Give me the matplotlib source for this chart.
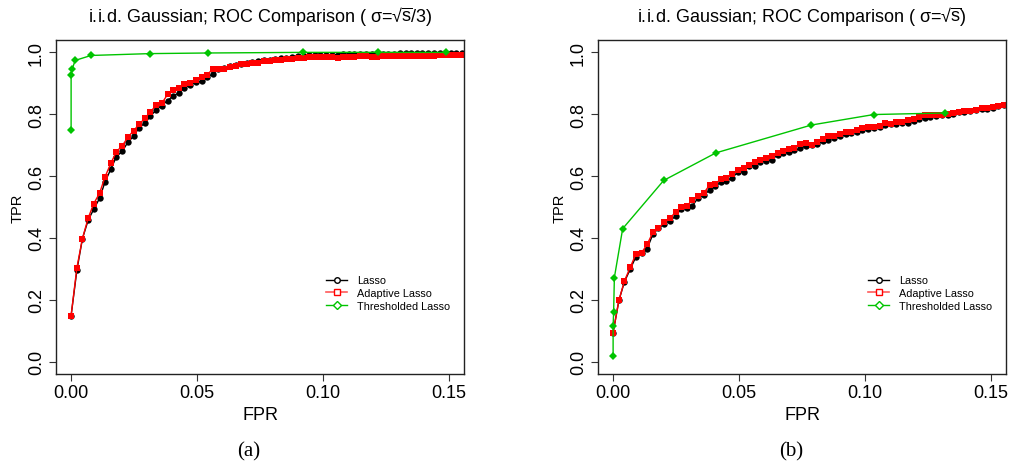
import matplotlib
matplotlib.use("Agg")
import matplotlib.pyplot as plt
from matplotlib.lines import Line2D

plt.rcParams['font.family'] = ['Liberation Sans', 'DejaVu Sans']
plt.rcParams['mathtext.fontset'] = 'custom'
plt.rcParams['mathtext.rm'] = 'Liberation Sans'
plt.rcParams['mathtext.it'] = 'Liberation Sans'
plt.rcParams['mathtext.bf'] = 'Liberation Sans:bold'

# ---------------- data ----------------
# common FPR grid of the Lasso / Adaptive Lasso paths
fpr_path = [0.0000, 0.0023, 0.0045, 0.0068, 0.0090, 0.0113, 0.0135, 0.0158, 0.0180, 0.0203,
            0.0225, 0.0248, 0.0270, 0.0293, 0.0315, 0.0338, 0.0360, 0.0383, 0.0405, 0.0428,
            0.0450, 0.0473, 0.0495, 0.0518, 0.0540, 0.0563, 0.0585, 0.0608, 0.0630, 0.0653,
            0.0675, 0.0698, 0.0720, 0.0743, 0.0765, 0.0788, 0.0810, 0.0833, 0.0855, 0.0878,
            0.0900, 0.0923, 0.0945, 0.0968, 0.0990, 0.1013, 0.1035, 0.1058, 0.1080, 0.1103,
            0.1125, 0.1148, 0.1170, 0.1193, 0.1215, 0.1238, 0.1260, 0.1283, 0.1305, 0.1328,
            0.1350, 0.1373, 0.1395, 0.1418, 0.1440, 0.1463, 0.1485, 0.1508, 0.1530, 0.1553]

# panel (a): sigma = sqrt(s)/3
tpr_lasso_a = [0.149, 0.296, 0.398, 0.458, 0.493, 0.528, 0.582, 0.623, 0.663, 0.680,
               0.709, 0.729, 0.757, 0.771, 0.794, 0.814, 0.828, 0.844, 0.859, 0.869,
               0.886, 0.895, 0.904, 0.906, 0.919, 0.931, 0.946, 0.950, 0.955, 0.960,
               0.963, 0.966, 0.969, 0.972, 0.974, 0.976, 0.979, 0.981, 0.983, 0.985,
               0.987, 0.989, 0.990, 0.991, 0.992, 0.992, 0.993, 0.993, 0.994, 0.994,
               0.994, 0.995, 0.995, 0.995, 0.996, 0.996, 0.996, 0.996, 0.997, 0.997,
               0.997, 0.997, 0.998, 0.998, 0.998, 0.998, 0.999, 0.999, 0.999, 0.999]
tpr_adapt_a = [0.149, 0.304, 0.398, 0.465, 0.511, 0.545, 0.598, 0.642, 0.679, 0.698,
               0.725, 0.747, 0.767, 0.787, 0.808, 0.829, 0.835, 0.864, 0.878, 0.884,
               0.898, 0.902, 0.911, 0.920, 0.928, 0.946, 0.945, 0.945, 0.954, 0.956,
               0.963, 0.964, 0.965, 0.965, 0.971, 0.972, 0.976, 0.976, 0.980, 0.980,
               0.982, 0.982, 0.984, 0.984, 0.985, 0.986, 0.986, 0.982, 0.984, 0.986,
               0.986, 0.987, 0.987, 0.984, 0.986, 0.987, 0.987, 0.988, 0.988, 0.988,
               0.988, 0.989, 0.989, 0.989, 0.989, 0.990, 0.990, 0.990, 0.991, 0.992]
fpr_thresh_a = [0.0000, 0.0000, 0.0004, 0.0016, 0.0079, 0.0313, 0.0544, 0.0921, 0.1219, 0.1490]
tpr_thresh_a = [0.750, 0.928, 0.945, 0.974, 0.990, 0.996, 0.998, 1.000, 1.000, 1.000]

# panel (b): sigma = sqrt(s)
tpr_lasso_b = [0.094, 0.198, 0.258, 0.299, 0.338, 0.351, 0.365, 0.412, 0.431, 0.446,
               0.455, 0.470, 0.494, 0.497, 0.504, 0.530, 0.539, 0.554, 0.567, 0.580,
               0.585, 0.595, 0.612, 0.614, 0.634, 0.634, 0.647, 0.649, 0.653, 0.668,
               0.673, 0.677, 0.683, 0.690, 0.697, 0.700, 0.703, 0.712, 0.718, 0.724,
               0.728, 0.735, 0.740, 0.744, 0.748, 0.752, 0.757, 0.760, 0.764, 0.768,
               0.770, 0.771, 0.772, 0.778, 0.785, 0.789, 0.792, 0.794, 0.796, 0.798,
               0.801, 0.806, 0.808, 0.810, 0.813, 0.816, 0.818, 0.821, 0.826, 0.829]
tpr_adapt_b = [0.094, 0.198, 0.261, 0.305, 0.347, 0.352, 0.379, 0.418, 0.432, 0.450,
               0.464, 0.483, 0.501, 0.504, 0.522, 0.537, 0.545, 0.571, 0.574, 0.591,
               0.595, 0.607, 0.621, 0.627, 0.637, 0.647, 0.651, 0.658, 0.664, 0.675,
               0.680, 0.688, 0.691, 0.704, 0.707, 0.702, 0.711, 0.720, 0.728, 0.728,
               0.737, 0.741, 0.744, 0.749, 0.755, 0.759, 0.760, 0.763, 0.772, 0.770,
               0.774, 0.774, 0.782, 0.785, 0.790, 0.796, 0.796, 0.796, 0.799, 0.801,
               0.804, 0.808, 0.810, 0.812, 0.815, 0.819, 0.820, 0.823, 0.828, 0.830]
fpr_thresh_b = [0.0000, 0.0000, 0.0002, 0.0005, 0.0038, 0.0201, 0.0408, 0.0787, 0.1035, 0.1318]
tpr_thresh_b = [0.019, 0.116, 0.159, 0.272, 0.430, 0.586, 0.675, 0.765, 0.799, 0.804]

x_ticks = [0.00, 0.05, 0.10, 0.15]
x_tick_labels = ["0.00", "0.05", "0.10", "0.15"]
y_ticks = [0.0, 0.2, 0.4, 0.6, 0.8, 1.0]
y_tick_labels = ["0.0", "0.2", "0.4", "0.6", "0.8", "1.0"]
series_names = ["Lasso", "Adaptive Lasso", "Thresholded Lasso"]
titles = ["i.i.d. Gaussian; ROC Comparison ( σ=√$\\overline{\\mathrm{s}}$/3)",
          "i.i.d. Gaussian; ROC Comparison ( σ=√$\\overline{\\mathrm{s}}$)"]
captions = ["(a)", "(b)"]

# ---------------- figure ----------------
W, H = 1011, 464
fig = plt.figure(figsize=(W / 100, H / 100), dpi=100)

GREEN = "#00c400"
RED = "#ff0000"


def px_rect(x0, y0, x1, y1):
    return [x0 / W, 1 - y1 / H, (x1 - x0) / W, (y1 - y0) / H]


panels = [
    dict(rect=px_rect(56, 41, 464, 375), lasso=tpr_lasso_a, adapt=tpr_adapt_a,
         fth=fpr_thresh_a, tth=tpr_thresh_a, leg=(326, 294), cap_x=249),
    dict(rect=px_rect(598, 41, 1006, 375), lasso=tpr_lasso_b, adapt=tpr_adapt_b,
         fth=fpr_thresh_b, tth=tpr_thresh_b, leg=(868, 294), cap_x=791),
]

for i, p in enumerate(panels):
    ax = fig.add_axes(p["rect"])
    ax.plot(fpr_path, p["lasso"], color="black", lw=1.0, marker="o", ms=4.6,
            mfc="black", mec="black", mew=0)
    ax.plot(fpr_path, p["adapt"], color=RED, lw=1.0, marker="s", ms=4.5,
            mfc=RED, mec=RED, mew=0)
    ax.plot(p["fth"], p["tth"], color=GREEN, lw=1.0, marker="D", ms=4.0,
            mfc=GREEN, mec=GREEN, mew=0)

    ax.set_xlim(-0.006, 0.156)
    ax.set_ylim(-0.04, 1.04)
    ax.set_xticks(x_ticks)
    ax.set_xticklabels(x_tick_labels)
    ax.set_yticks(y_ticks)
    ax.set_yticklabels(y_tick_labels, rotation=90, va="center")
    ax.tick_params(axis="both", labelsize=13, length=5, width=0.8, color="#333333")
    ax.tick_params(axis="x", pad=2.5)
    ax.tick_params(axis="y", pad=3)
    for s in ax.spines.values():
        s.set_linewidth(1.0)
        s.set_color("#222222")

    ax.set_xlabel("FPR", fontsize=13, labelpad=3)
    ax.set_ylabel("TPR", fontsize=10.5, labelpad=2)

    cx = (p["rect"][0] + p["rect"][2] / 2)
    fig.text(cx, 1 - 17 / H, titles[i], ha="center", va="center", fontsize=13)
    fig.text(p["cap_x"] / W, 1 - 452 / H, captions[i], ha="center", va="center",
             fontsize=15, family="Liberation Serif")

    handles = [
        Line2D([], [], color="black", lw=1.0, marker="o", ms=4, mfc="white", mec="black", mew=1.0),
        Line2D([], [], color="#ff5a5a", lw=1.2, marker="s", ms=4, mfc="white", mec=RED, mew=1.0),
        Line2D([], [], color=GREEN, lw=1.0, marker="D", ms=3.6, mfc="white", mec=GREEN, mew=1.0),
    ]
    lx, ly = p["leg"]
    ax.legend(handles, series_names, loc="center left",
              bbox_to_anchor=(lx / W, 1 - ly / H), bbox_transform=fig.transFigure,
              frameon=False, fontsize=7.8, handlelength=1.95, handletextpad=0.9,
              labelspacing=0.25, borderpad=0, borderaxespad=0)

fig.savefig("out.png", dpi=100, facecolor="white")
